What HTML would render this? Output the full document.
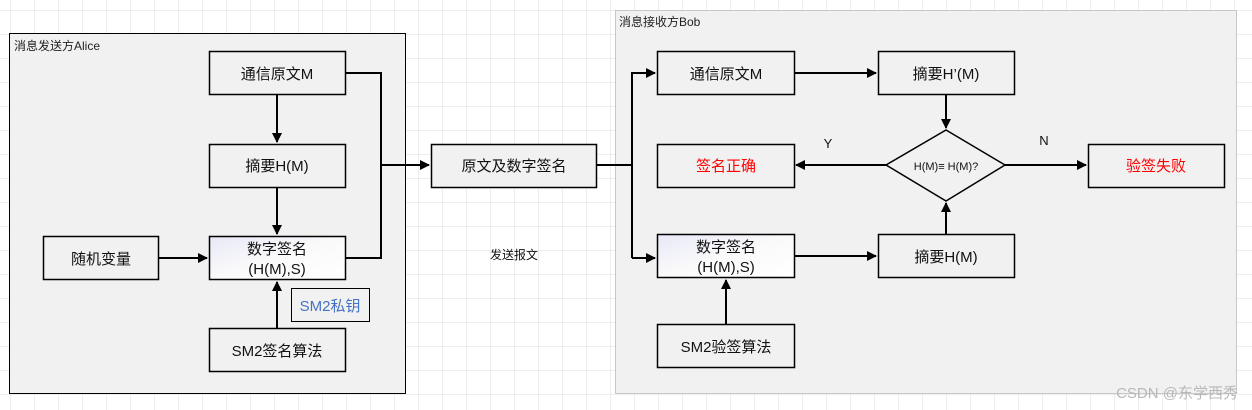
<!DOCTYPE html>
<html><head><meta charset="utf-8"><style>
html,body{margin:0;padding:0;width:1252px;height:410px;overflow:hidden;background:#fff;}
svg{display:block}
text{font-family:"Liberation Sans","Noto Sans CJK SC",sans-serif;}
</style></head><body>
<svg width="1252" height="410" viewBox="0 0 1252 410" xmlns="http://www.w3.org/2000/svg">
<defs>
<pattern id="g" x="10" y="10" width="24" height="24" patternUnits="userSpaceOnUse">
<path d="M0 0H24M0 0V24" stroke="#dcdcdc" stroke-width="1" fill="none"/>
</pattern>
<linearGradient id="wg" x1="0" y1="0" x2="1" y2="1">
<stop offset="0" stop-color="#e8e8f8"/><stop offset="0.5" stop-color="#fafafa"/><stop offset="1" stop-color="#ffffff"/>
</linearGradient>
<marker id="a" markerWidth="10" markerHeight="10" refX="9" refY="5" orient="auto" markerUnits="userSpaceOnUse">
<path d="M0 0L10 5L0 10Z" fill="#000"/>
</marker>
</defs>
<rect width="1252" height="410" fill="url(#g)"/>
<!-- containers -->
<rect x="9.5" y="33.5" width="396" height="360" fill="#f1f1f1" stroke="#000"/>
<text x="14" y="50" font-size="12" fill="#222">消息发送方Alice</text>
<rect x="615.5" y="10.5" width="621" height="383" fill="#f1f1f1" stroke="#c8c8c8"/>
<text x="619" y="26" font-size="12" fill="#222">消息接收方Bob</text>

<g stroke="#000" stroke-width="1.5" fill="#f1f1f1">
<rect x="209.5" y="51.5" width="136" height="43"/>
<rect x="209.5" y="144.5" width="136" height="43"/>
<rect x="209.5" y="236.5" width="136" height="43" fill="url(#wg)"/>
<rect x="43.5" y="236.5" width="115" height="43"/>
<rect x="209.5" y="328.5" width="136" height="43"/>
<rect x="431.5" y="144.5" width="165" height="43"/>
<rect x="657.5" y="51.5" width="137" height="43"/>
<rect x="878.5" y="51.5" width="136" height="43"/>
<rect x="657.5" y="144.5" width="137" height="43"/>
<rect x="1088.5" y="144.5" width="136" height="43"/>
<rect x="657.5" y="234.5" width="137" height="43" fill="url(#wg)"/>
<rect x="878.5" y="234.5" width="136" height="43"/>
<rect x="657.5" y="324.5" width="137" height="43"/>
<polygon points="946,130 1005,165 946,201 886,165"/>
</g>
<rect x="291.5" y="288.5" width="78" height="33" fill="#f1f1f1" stroke="#000" stroke-width="1"/>

<g stroke="#000" stroke-width="2" fill="none">
<path d="M277 94V142" marker-end="url(#a)"/>
<path d="M277 187V234" marker-end="url(#a)"/>
<path d="M158 258H207" marker-end="url(#a)"/>
<path d="M277 328V282" marker-end="url(#a)"/>
<path d="M345 73H381V258H345"/>
<path d="M381 165H429" marker-end="url(#a)"/>
<path d="M596 165H632"/>
<path d="M632 258V73H655" marker-end="url(#a)"/>
<path d="M632 258H655" marker-end="url(#a)"/>
<path d="M794 73H876" marker-end="url(#a)"/>
<path d="M946 94V128" marker-end="url(#a)"/>
<path d="M946 234V203" marker-end="url(#a)"/>
<path d="M886 165H796" marker-end="url(#a)"/>
<path d="M1005 165H1086" marker-end="url(#a)"/>
<path d="M794 256H876" marker-end="url(#a)"/>
<path d="M726 324V280" marker-end="url(#a)"/>
</g>

<g font-size="15" fill="#111" text-anchor="middle">
<text x="277" y="79">通信原文M</text>
<text x="277" y="171">摘要H(M)</text>
<text x="277" y="254">数字签名</text>
<text x="277" y="274">(H(M),S)</text>
<text x="101" y="264">随机变量</text>
<text x="277" y="356">SM2签名算法</text>
<text x="330" y="311" fill="#4472c4">SM2私钥</text>
<text x="514" y="171">原文及数字签名</text>
<text x="726" y="79">通信原文M</text>
<text x="946" y="79">摘要H’(M)</text>
<text x="726" y="171" fill="#ff0000">签名正确</text>
<text x="1156" y="171" fill="#ff0000">验签失败</text>
<text x="726" y="252">数字签名</text>
<text x="726" y="272">(H(M),S)</text>
<text x="946" y="262">摘要H(M)</text>
<text x="726" y="352">SM2验签算法</text>
<text x="946" y="170" font-size="11">H(M)≡ H(M)?</text>
<text x="828" y="148" font-size="13">Y</text>
<text x="1044" y="145" font-size="13">N</text>
<text x="514" y="259" font-size="12">发送报文</text>
</g>
<text x="1238" y="398" font-size="15" fill="#b8b8b8" text-anchor="end">CSDN @东学西秀</text>
</svg>
</body></html>
